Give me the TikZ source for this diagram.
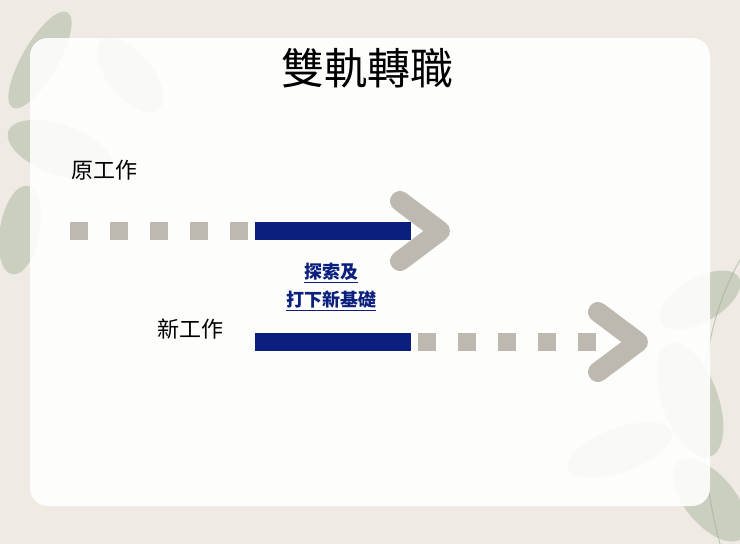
\documentclass[tikz,border=0pt]{standalone}
\usepackage{fontspec}
\newfontfamily\cjk{Noto Sans CJK TC}
\definecolor{bg}{HTML}{EFEBE4}
\definecolor{navy}{HTML}{0A1F7E}
\definecolor{gr}{HTML}{BDB9B1}
\definecolor{leaf}{HTML}{9DAF92}
\begin{document}
\begin{tikzpicture}[x=1pt,y=-1pt,
  sq/.style={fill=gr,minimum size=18pt,inner sep=0pt},
  bar/.style={fill=navy,minimum width=156pt,minimum height=18pt,inner sep=0pt},
  chev/.style={draw=gr,line width=20pt,line cap=round,line join=round},
  lf/.style={fill=leaf,opacity=0.45},
  lbl/.style={font=\cjk\fontsize{22}{26}\selectfont}]
\fill[bg] (0,0) rectangle (740,544);
\useasboundingbox (0,0) rectangle (740,544);
% leaves top-left
\fill[lf,rotate around={-30:(40,60)}] (40,60) ellipse (18 and 55);
\fill[lf,rotate around={40:(130,75)}] (130,75) ellipse (22 and 45);
\fill[lf,rotate around={70:(60,150)}] (60,150) ellipse (25 and 55);
\fill[lf,rotate around={-10:(20,230)}] (20,230) ellipse (20 and 45);
% leaves bottom-right
\fill[lf,rotate around={-60:(700,300)}] (700,300) ellipse (22 and 45);
\fill[lf,rotate around={20:(690,400)}] (690,400) ellipse (28 and 60);
\fill[lf,rotate around={-70:(620,450)}] (620,450) ellipse (22 and 55);
\fill[lf,rotate around={40:(710,500)}] (710,500) ellipse (25 and 50);
\draw[leaf,opacity=0.6,line width=1pt] (740,260) .. controls (700,330) and (690,430) .. (720,544);
% white panel
\fill[white,opacity=0.9,rounded corners=18pt] (30,38) rectangle (710,506);
\node[font=\cjk\fontsize{43}{46}\selectfont] (title) at (367,68) {雙軌轉職};
\node[lbl] (old) at (104,170) {原工作};
\node[lbl] (new) at (190,329) {新工作};
% row 1
\foreach \i/\x in {1/79,2/119,3/159,4/199,5/239} \node[sq] (a\i) at (\x,231) {};
\node[bar] (b1) at (333,231) {};
\coordinate (c1a) at (400,201); \coordinate (c1b) at (440,231); \coordinate (c1c) at (400,261);
\draw[chev] (c1a) -- (c1b) -- (c1c);
% row 2
\node[bar] (b2) at (333,342) {};
\foreach \i/\x in {1/427,2/467,3/507,4/547,5/587} \node[sq] (d\i) at (\x,342) {};
\coordinate (c2a) at (598,312); \coordinate (c2b) at (638,342); \coordinate (c2c) at (598,372);
\draw[chev] (c2a) -- (c2b) -- (c2c);
% label
\node[font=\cjk\bfseries\fontsize{18}{28}\selectfont,text=navy,align=center] (mid) at (331,287)
  {\underline{探索及}\\\underline{打下新基礎}};
\end{tikzpicture}
\end{document}
